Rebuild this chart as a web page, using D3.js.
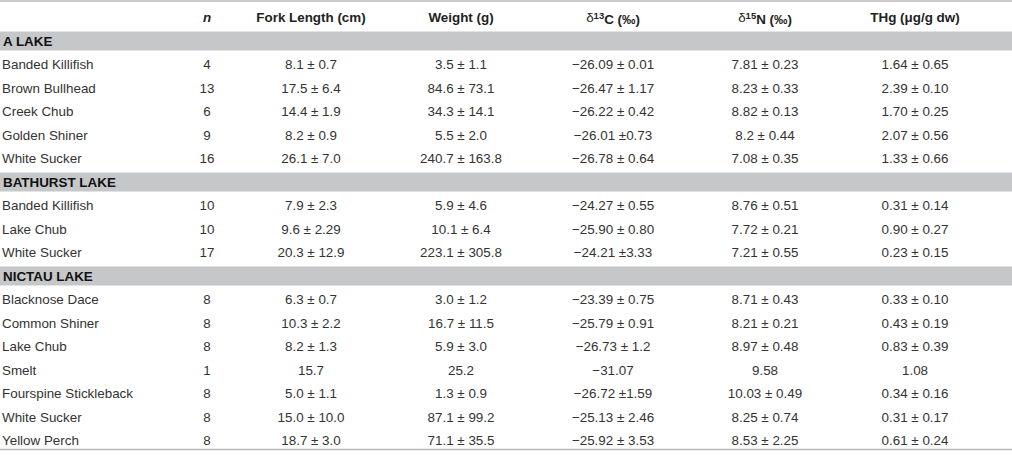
<!DOCTYPE html>
<html>
<head>
<meta charset="utf-8">
<script src="https://cdn.jsdelivr.net/npm/d3@7"></script>
<style>
  body { margin: 0; background: #fff; }
  text { font-family: "Liberation Sans", Arial, Helvetica, sans-serif; font-size: 13.4px; fill: #333; }
  .head { font-weight: bold; fill: #222; }
  .section { font-weight: bold; fill: #111; }
</style>
</head>
<body>
<script>
// table content
var sections = ["A LAKE", "BATHURST LAKE", "NICTAU LAKE"];
var species = [
  ["Banded Killifish", "Brown Bullhead", "Creek Chub", "Golden Shiner", "White Sucker"],
  ["Banded Killifish", "Lake Chub", "White Sucker"],
  ["Blacknose Dace", "Common Shiner", "Lake Chub", "Smelt", "Fourspine Stickleback", "White Sucker", "Yellow Perch"]
];
var nFish = [
  [4, 13, 6, 9, 16],
  [10, 10, 17],
  [8, 8, 8, 1, 8, 8, 8]
];
var forkLength = [
  ["8.1 ± 0.7", "17.5 ± 6.4", "14.4 ± 1.9", "8.2 ± 0.9", "26.1 ± 7.0"],
  ["7.9 ± 2.3", "9.6 ± 2.29", "20.3 ± 12.9"],
  ["6.3 ± 0.7", "10.3 ± 2.2", "8.2 ± 1.3", "15.7", "5.0 ± 1.1", "15.0 ± 10.0", "18.7 ± 3.0"]
];
var weight = [
  ["3.5 ± 1.1", "84.6 ± 73.1", "34.3 ± 14.1", "5.5 ± 2.0", "240.7 ± 163.8"],
  ["5.9 ± 4.6", "10.1 ± 6.4", "223.1 ± 305.8"],
  ["3.0 ± 1.2", "16.7 ± 11.5", "5.9 ± 3.0", "25.2", "1.3 ± 0.9", "87.1 ± 99.2", "71.1 ± 35.5"]
];
var d13C = [
  ["−26.09 ± 0.01", "−26.47 ± 1.17", "−26.22 ± 0.42", "−26.01 ±0.73", "−26.78 ± 0.64"],
  ["−24.27 ± 0.55", "−25.90 ± 0.80", "−24.21 ±3.33"],
  ["−23.39 ± 0.75", "−25.79 ± 0.91", "−26.73 ± 1.2", "−31.07", "−26.72 ±1.59", "−25.13 ± 2.46", "−25.92 ± 3.53"]
];
var d15N = [
  ["7.81 ± 0.23", "8.23 ± 0.33", "8.82 ± 0.13", "8.2 ± 0.44", "7.08 ± 0.35"],
  ["8.76 ± 0.51", "7.72 ± 0.21", "7.21 ± 0.55"],
  ["8.71 ± 0.43", "8.21 ± 0.21", "8.97 ± 0.48", "9.58", "10.03 ± 0.49", "8.25 ± 0.74", "8.53 ± 2.25"]
];
var thg = [
  ["1.64 ± 0.65", "2.39 ± 0.10", "1.70 ± 0.25", "2.07 ± 0.56", "1.33 ± 0.66"],
  ["0.31 ± 0.14", "0.90 ± 0.27", "0.23 ± 0.15"],
  ["0.33 ± 0.10", "0.43 ± 0.19", "0.83 ± 0.39", "1.08", "0.34 ± 0.16", "0.31 ± 0.17", "0.61 ± 0.24"]
];
var columns = ["n", "fork", "weight", "d13C", "d15N", "thg"];

var width = 1012, height = 459;

// flatten into rows: header, then section row + species rows
var rows = [{ type: "head" }];
sections.forEach(function (s, i) {
  rows.push({ type: "section", label: s });
  species[i].forEach(function (name, j) {
    rows.push({
      type: "data",
      label: name,
      values: [nFish[i][j], forkLength[i][j], weight[i][j], d13C[i][j], d15N[i][j], thg[i][j]]
    });
  });
});

var y = d3.scaleBand()
  .domain(d3.range(rows.length))
  .range([5.75, 5.75 + rows.length * 23.5]);

var x = d3.scaleOrdinal()
  .domain(columns)
  .range([207, 311, 461, 613, 765, 915]);

var svg = d3.select("body").append("svg")
  .attr("width", width)
  .attr("height", height);

// top and bottom rules
svg.append("line")
  .attr("x1", 0).attr("x2", width)
  .attr("y1", 1).attr("y2", 1)
  .style("stroke", "#b8b8b8").style("stroke-width", 1.5);
svg.append("line")
  .attr("x1", 0).attr("x2", width)
  .attr("y1", 449.5).attr("y2", 449.5)
  .style("stroke", "#b8b8b8").style("stroke-width", 1.5);

var row = svg.selectAll(".row")
  .data(rows)
  .enter()
  .append("g")
  .attr("class", "row")
  .attr("transform", function (d, i) {
    return "translate(0," + (y(i) + y.bandwidth() / 2) + ")";
  });

// grey bands behind lake names
row.filter(function (d) { return d.type === "section"; })
  .append("rect")
  .attr("x", 0)
  .attr("y", -9.5)
  .attr("width", width)
  .attr("height", 19)
  .style("fill", "#c6c7c9");

row.filter(function (d) { return d.type === "section"; })
  .append("text")
  .attr("class", "section")
  .attr("x", 3)
  .attr("dy", "0.36em")
  .text(function (d) { return d.label; });

row.filter(function (d) { return d.type === "data"; })
  .append("text")
  .attr("x", 2)
  .attr("dy", "0.36em")
  .text(function (d) { return d.label; });

row.filter(function (d) { return d.type === "data"; })
  .selectAll(".cell")
  .data(function (d) { return d.values; })
  .enter()
  .append("text")
  .attr("class", "cell")
  .attr("x", function (d, i) { return x(columns[i]); })
  .attr("dy", "0.36em")
  .style("text-anchor", "middle")
  .text(function (d) { return d; });

// header row
var head = row.filter(function (d) { return d.type === "head"; });

head.append("text")
  .attr("class", "head")
  .attr("x", x("n"))
  .attr("dy", "0.36em")
  .style("text-anchor", "middle")
  .style("font-style", "italic")
  .text("n");

head.append("text")
  .attr("class", "head")
  .attr("x", x("fork"))
  .attr("dy", "0.36em")
  .style("text-anchor", "middle")
  .text("Fork Length (cm)");

head.append("text")
  .attr("class", "head")
  .attr("x", x("weight"))
  .attr("dy", "0.36em")
  .style("text-anchor", "middle")
  .text("Weight (g)");

function isotope(col, mass, el) {
  var t = head.append("text")
    .attr("class", "head")
    .attr("x", x(col))
    .attr("dy", "0.36em")
    .style("text-anchor", "middle");
  t.append("tspan").style("font-weight", "normal").text("δ");
  t.append("tspan").attr("dy", "-0.4em").style("font-size", "9.5px").text(mass);
  t.append("tspan").attr("dy", "0.4em").text(el + " (‰)");
}
isotope("d13C", "13", "C");
isotope("d15N", "15", "N");

head.append("text")
  .attr("class", "head")
  .attr("x", x("thg"))
  .attr("dy", "0.36em")
  .style("text-anchor", "middle")
  .text("THg (μg/g dw)");
</script>
</body>
</html>
